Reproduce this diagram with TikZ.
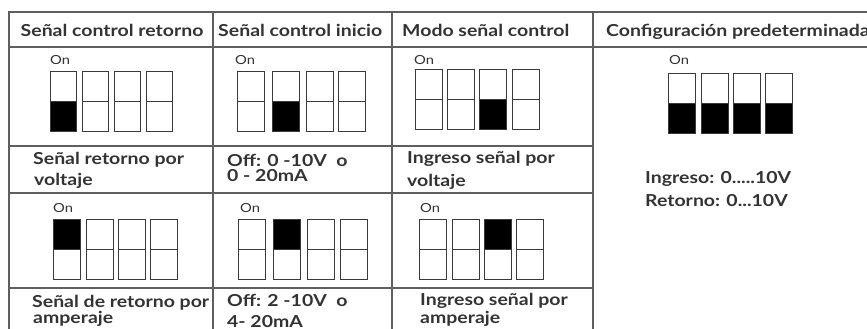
\documentclass[tikz,border=0pt]{standalone}
\usepackage{fontspec}
\setmainfont{Lato}
\newfontfamily\widefont{Lato}[FakeStretch=1.18]
\definecolor{txt}{HTML}{333333}
\definecolor{rule}{HTML}{5F5F5F}
\definecolor{swline}{HTML}{3A3A3A}

\begin{document}
\begin{tikzpicture}
[%%%%%%%%%%%%%%%%%%%%%%%%%%%%%%
x=1pt,y=-1pt,
box/.style={rectangle,draw=swline,line width=1.1pt,minimum width=26.5pt,minimum height=30pt,inner sep=0pt,anchor=north west},
head/.style={anchor=base west,inner sep=0pt,text=txt,font=\widefont\bfseries\fontsize{16.5}{19}\selectfont},
lbl/.style={anchor=base west,inner sep=0pt,text=txt,font=\widefont\bfseries\fontsize{16.5}{19}\selectfont},
on/.style={anchor=base west,inner sep=0pt,text=txt,font=\widefont\fontsize{12.5}{14}\selectfont},
]%%%%%%%%%%%%%%%%%%%%%%%%%%%%%%

\useasboundingbox (0,0) rectangle (867,329);

% table
\draw[rule,line width=1.3pt] (9,329) -- (9,12) -- (867,12);
\draw[rule,line width=1.3pt] (9,47) -- (867,47);
\foreach \x in {213,392,593}
\draw[rule,line width=1.3pt] (\x,12) -- (\x,329);
\foreach \y in {146,193,288}
\draw[rule,line width=1.3pt] (9,\y) -- (593,\y);

% headers
\node[head] (h1) at (20.5,36.5) {Señal control retorno};
\node[head] (h2) at (218,36.5) {Señal control inicio};
\node[head] (h3) at (402,36.5) {Modo señal control};
\node[head] (h4) at (606,36.5) {Configuración predeterminada};

% switches, first row
\node[on] (on1) at (50,65) {On};
\foreach \x [count=\i] in {49.5,81.5,113.5,145.5}{
\node[box] (a\i u) at (\x,71){};
\node[box] (a\i d) at (\x,101){};
}
\node[box,fill=black] at (49.5,101){};

\node[on] (on2) at (235,65) {On};
\foreach \x [count=\i] in {237,272,306,338}{
\node[box] (b\i u) at (\x,71){};
\node[box] (b\i d) at (\x,101){};
}
\node[box,fill=black] at (272,101){};

\node[on] (on3) at (414,65) {On};
\foreach \x [count=\i] in {415,447,479,512}{
\node[box] (c\i u) at (\x,69){};
\node[box] (c\i d) at (\x,99){};
}
\node[box,fill=black] at (479,99){};

\node[on] (on4) at (669,65) {On};
\foreach \x [count=\i] in {668,701,733,765}{
\node[box] (d\i u) at (\x,73){};
\node[box,fill=black] (d\i d) at (\x,103){};
}

% switches, second row
\node[on] (on5) at (53,212) {On};
\foreach \x [count=\i] in {53,86,118,150}{
\node[box] (e\i u) at (\x,219){};
\node[box] (e\i d) at (\x,249){};
}
\node[box,fill=black] at (53,219){};

\node[on] (on6) at (240,212) {On};
\foreach \x [count=\i] in {238,273,307,340}{
\node[box] (f\i u) at (\x,219){};
\node[box] (f\i d) at (\x,249){};
}
\node[box,fill=black] at (273,219){};

\node[on] (on7) at (420,212) {On};
\foreach \x [count=\i] in {419,452,484,516}{
\node[box] (g\i u) at (\x,219){};
\node[box] (g\i d) at (\x,249){};
}
\node[box,fill=black] at (484,219){};

% labels
\node[lbl] (l1a) at (33,164) {Señal retorno por};
\node[lbl] (l1b) at (34,185) {voltaje};
\node[lbl] (l2a) at (227,166.7) {Off: 0 -10V\ \ o};
\node[lbl] (l2b) at (227,181.7) {0 - 20mA};
\node[lbl] (l3a) at (407,163.3) {Ingreso señal por};
\node[lbl] (l3b) at (407,186.7) {voltaje};
\node[lbl] (l4a) at (645,183) {Ingreso: 0.....10V};
\node[lbl] (l4b) at (645,206) {Retorno: 0...10V};

\node[lbl] (l5a) at (32,307.3) {Señal de retorno por};
\node[lbl] (l5b) at (33,323) {amperaje};
\node[lbl] (l6a) at (227,306.7) {Off: 2 -10V\ \ o};
\node[lbl] (l6b) at (227,327.7) {4- 20mA};
\node[lbl] (l7a) at (420,305) {Ingreso señal por};
\node[lbl] (l7b) at (420,323) {amperaje};
\end{tikzpicture}
\end{document}
